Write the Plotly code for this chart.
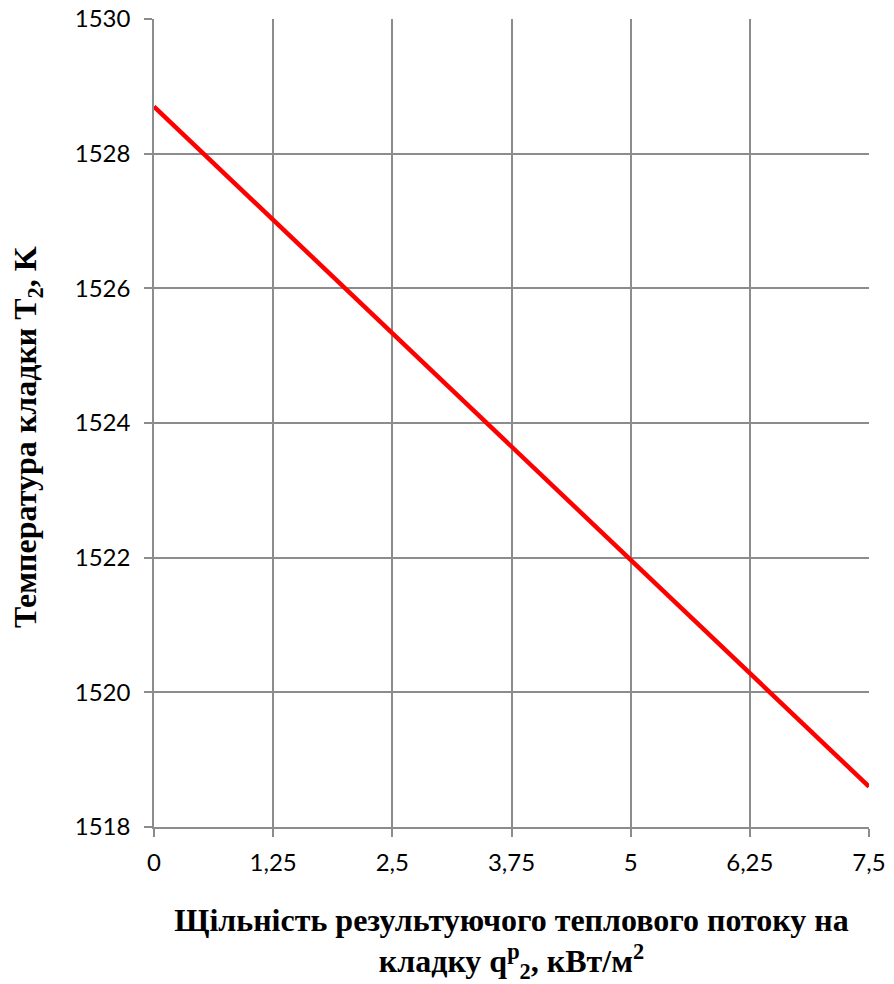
import plotly.graph_objects as go

# Heat flux density to the masonry, kW/m2
q_flux = [0, 1.25, 2.5, 3.75, 5, 6.25, 7.5]
# Masonry temperature T2, K
t_masonry = [1528.7, 1527.02, 1525.33, 1523.65, 1521.97, 1520.28, 1518.6]

x_ticks = [0, 1.25, 2.5, 3.75, 5, 6.25, 7.5]
x_tick_text = ["0", "1,25", "2,5", "3,75", "5", "6,25", "7,5"]
y_ticks = [1518, 1520, 1522, 1524, 1526, 1528, 1530]

grid_color = "#8c8c8c"
tick_font = dict(family="Lato, 'Open Sans', sans-serif", size=24, color="black")
title_font = dict(family="'Liberation Serif', 'Times New Roman', serif", size=32, color="black")

# plot area in pixels
left, right, top, bottom = 154, 25, 19, 157
plot_w = 894 - left - right
plot_h = 984 - top - bottom

fig = go.Figure()
fig.add_trace(go.Scatter(
    x=q_flux, y=t_masonry, mode="lines",
    line=dict(color="#ff0000", width=4.5),
    showlegend=False,
))

fig.update_layout(
    width=894, height=984,
    margin=dict(l=left, r=right, t=top, b=bottom),
    paper_bgcolor="white", plot_bgcolor="white",
)

fig.update_xaxes(
    range=[0, 7.5], tickvals=x_ticks, ticktext=x_tick_text, tickfont=tick_font,
    showgrid=True, gridcolor=grid_color, gridwidth=1.5,
    showline=True, linecolor=grid_color, linewidth=1.5,
    ticks="outside", ticklen=8, tickcolor=grid_color, tickwidth=1.5,
    zeroline=False, ticklabelstandoff=5, automargin=False,
    title=dict(
        text="<b>Щільність результуючого теплового потоку на<br>кладку q<sup>p</sup><sub>2</sub>, кВт/м<sup>2</sup></b>",
        font=title_font,
        standoff=34,
    ),
)

fig.update_yaxes(
    range=[1518, 1530], tickvals=y_ticks, tickfont=tick_font,
    showgrid=True, gridcolor=grid_color, gridwidth=1.5,
    showline=True, linecolor=grid_color, linewidth=1.5,
    ticks="outside", ticklen=8, tickcolor=grid_color, tickwidth=1.5,
    zeroline=False, ticklabelstandoff=9, automargin=False,
)

# vertical axis title placed by hand
fig.add_annotation(
    text="<b>Температура кладки T<sub>2</sub>, K</b>",
    font=title_font, textangle=-90, showarrow=False,
    xref="paper", yref="paper",
    x=(27 - left) / plot_w, y=(984 - bottom - 437) / plot_h,
    xanchor="center", yanchor="middle",
)

fig.write_html("out.html")
